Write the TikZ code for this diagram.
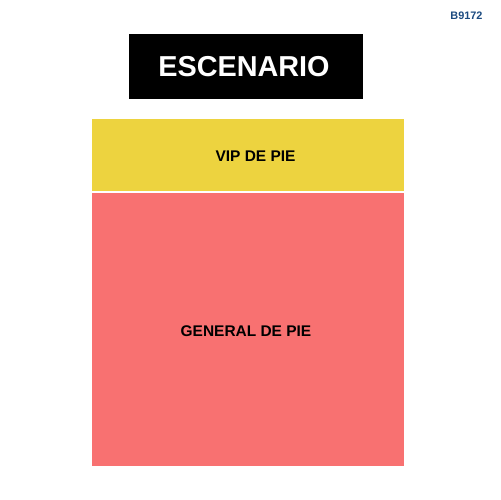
\documentclass[tikz,border=0pt]{standalone}
\usepackage{fontspec}
\setmainfont{Liberation Sans}
\usepackage{tikz}
\usetikzlibrary{calc}
\definecolor{stageblack}{HTML}{000000}
\definecolor{vipyellow}{HTML}{EDD33F}
\definecolor{genred}{HTML}{F87171}
\definecolor{codeblue}{HTML}{1B4A80}
\tikzset{
	arealabel/.style={font=\bfseries\fontsize{8.8}{10}\selectfont, text=black}
}
\begin{document}
\begin{tikzpicture}[x=0.02cm, y=-0.02cm]
	
	\useasboundingbox (0,0) rectangle (500,500);
	
	\coordinate (s1) at (129,34);
	\coordinate (s2) at (363,99.5);
	\coordinate (v1) at (91.5,119);
	\coordinate (v2) at (403.5,190.5);
	\coordinate (g1) at (91.5,193);
	\coordinate (g2) at (403.5,465.5);
	\fill[stageblack] (s1) rectangle (s2);
	\fill[vipyellow] (v1) rectangle (v2);
	\fill[genred] (g1) rectangle (g2);
	\node[text=white, font=\bfseries\fontsize{16.4}{19}\selectfont] (stage) at (244,67) {ESCENARIO};
	\node[arealabel] (vip) at (255.5,156) {VIP DE PIE};
	\node[arealabel] (general) at (246,331) {GENERAL DE PIE};
	\node[text=codeblue, font=\bfseries\fontsize{6.2}{7}\selectfont] (code) at (466.5,15.7) {B9172};
	
\end{tikzpicture}
\end{document}
